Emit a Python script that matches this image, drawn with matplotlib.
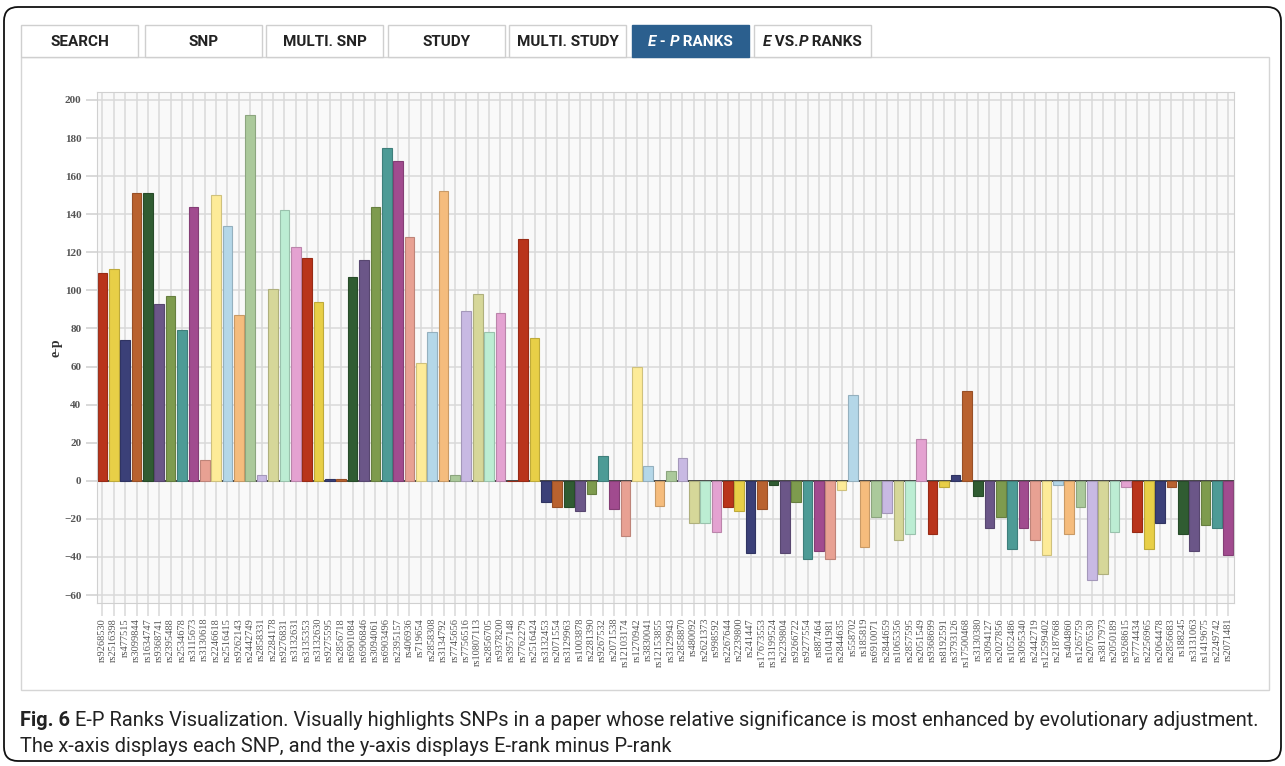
import numpy as np
import matplotlib
matplotlib.use("Agg")
import matplotlib.pyplot as plt
from matplotlib import colors as mcolors
from matplotlib import font_manager
from matplotlib.patches import Rectangle, FancyBboxPatch

# SNPs in the order they appear on the x-axis
snps = ["rs9268530", "rs2516398", "rs477515", "rs3099844", "rs1634747", "rs9368741",
        "rs2395488", "rs2534678", "rs3115673", "rs3130618", "rs2246618", "rs2516415",
        "rs9262143", "rs2442749", "rs2858331", "rs2284178", "rs9276831", "rs3132631",
        "rs3135353", "rs3132630", "rs9275595", "rs2856718", "rs6901084", "rs6906846",
        "rs3094061", "rs6903496", "rs2395157", "rs406936", "rs719654", "rs2858308",
        "rs3134792", "rs7745656", "rs7756516", "rs10807113", "rs2856705", "rs9378200",
        "rs3957148", "rs7762279", "rs2516424", "rs3132453", "rs2071554", "rs3129963",
        "rs1003878", "rs2281390", "rs9267532", "rs2071538", "rs12103174", "rs1270942",
        "rs3830041", "rs12153855", "rs3129943", "rs2858870", "rs480092", "rs2621373",
        "rs998592", "rs2267644", "rs2239800", "rs241447", "rs17673553", "rs13199524",
        "rs2239804", "rs9266722", "rs9277554", "rs887464", "rs1041981", "rs2844635",
        "rs558702", "rs185819", "rs6910071", "rs2844659", "rs1065356", "rs2857595",
        "rs2051549", "rs9368699", "rs8192591", "rs3793126", "rs17500468", "rs3130380",
        "rs3094127", "rs2027856", "rs1052486", "rs3095340", "rs2442719", "rs12599402",
        "rs2187668", "rs404860", "rs1265759", "rs2076530", "rs3817973", "rs2050189",
        "rs9268615", "rs7774434", "rs2256965", "rs2064478", "rs2856683", "rs188245",
        "rs3131063", "rs1419675", "rs2249742", "rs2071481"]

# E-rank minus P-rank
e_minus_p = [109, 111, 74, 151, 151, 93, 97, 79, 144, 11, 150, 134,
             87, 192, 3, 101, 142, 123, 117, 94, 1, 1, 107, 116,
             144, 175, 168, 128, 62, 78, 152, 3, 89, 98, 78, 88,
             0, 127, 75, -11, -14, -14, -16, -7, 13, -15, -29, 60,
             8, -13, 5, 12, -22, -22, -27, -14, -16, -38, -15, -2,
             -38, -11, -41, -37, -41, -5, 45, -35, -19, -17, -31, -28,
             22, -28, -3, 3, 47, -8, -25, -19, -36, -25, -31, -39,
             -2, -28, -14, -52, -49, -27, -3, -27, -36, -22, -3, -28,
             -37, -23, -25, -39]

palette = ["#b9341b", "#e8cf47", "#3b4078", "#b9622f", "#305c32", "#6b5688",
           "#7e9b4e", "#4d9b96", "#a14b8f", "#e8a193", "#fdeb98", "#b4d7e8",
           "#f5bc7d", "#abc99b", "#c8b9e3", "#d6d799", "#bcedd3", "#e4a2d1"]

# tab labels as (text, italic) runs
tabs = [[("SEARCH", False)],
        [("SNP", False)],
        [("MULTI. SNP", False)],
        [("STUDY", False)],
        [("MULTI. STUDY", False)],
        [("E", True), (" - ", False), ("P", True), (" RANKS", False)],
        [("E", True), (" VS.", False), ("P", True), (" RANKS", False)]]
active_tab = 5

caption_bold = "Fig. 6"
caption_1 = (" E-P Ranks Visualization. Visually highlights SNPs in a paper whose relative "
             "significance is most enhanced by evolutionary adjustment.")
caption_2 = "The x-axis displays each SNP, and the y-axis displays E-rank minus P-rank"


def pick_font(names):
    have = {f.name for f in font_manager.fontManager.ttflist}
    for n in names:
        if n in have:
            return n
    return "DejaVu Sans"


NARROW = pick_font(["Liberation Sans Narrow", "Roboto"])
SERIF = pick_font(["Liberation Serif", "DejaVu Serif"])

W, H = 1285, 766
fig = plt.figure(figsize=(W / 100, H / 100), dpi=100)
renderer = fig.canvas.get_renderer()

# background axes in pixel units for the frame, tabs and caption
bg = fig.add_axes([0, 0, 1, 1], zorder=0)
bg.set_xlim(0, W)
bg.set_ylim(H, 0)
bg.axis("off")

bg.add_patch(FancyBboxPatch((4, 7), W - 8, H - 12, boxstyle="round,pad=0,rounding_size=14",
                            fc="white", ec="#111111", lw=1.3))
bg.add_patch(Rectangle((21, 57), 1248, 633, fc="white", ec="#d5d5d5", lw=1))


def place_runs(x0, cy, runs, center=True, **kw):
    texts = [bg.text(0, cy, s, va="center", ha="left",
                     style="italic" if it else "normal", **kw) for s, it in runs]
    widths = [t.get_window_extent(renderer).width for t in texts]
    x = x0 - sum(widths) / 2 if center else x0
    for t, w in zip(texts, widths):
        t.set_x(x)
        x += w
    return texts


tab_left = [21, 145, 266, 388, 509, 632, 754]
for i, (left, runs) in enumerate(zip(tab_left, tabs)):
    on = i == active_tab
    bg.add_patch(Rectangle((left, 25), 117, 32, fc="#2b5f8e" if on else "white",
                           ec="#2b5f8e" if on else "#cfcfcf", lw=1, zorder=2))
    place_runs(left + 58.5, 42, runs, family=NARROW, fontweight="bold", fontsize=11,
               color="white" if on else "#222222", zorder=3)

# caption, sized to span the frame
fs = 11
t_b = bg.text(20, 720, caption_bold, va="center", ha="left", family=NARROW,
              fontweight="bold", fontsize=fs, color="#222222")
t_1 = bg.text(0, 720, caption_1, va="center", ha="left", family=NARROW, fontsize=fs, color="#222222")
total = t_b.get_window_extent(renderer).width + t_1.get_window_extent(renderer).width
fs = fs * 1232 / total
t_b.set_fontsize(fs)
t_1.set_fontsize(fs)
t_1.set_x(20 + t_b.get_window_extent(renderer).width)
bg.text(20, 746, caption_2, va="center", ha="left", family=NARROW, fontsize=fs, color="#222222")

# bar colours cycle through the palette, skipping empty entries
bar_colors, edge_colors = [], []
k = 0
for v in e_minus_p:
    c = palette[k % len(palette)]
    if v != 0:
        k += 1
    rgb = mcolors.to_rgb(c)
    bar_colors.append(rgb)
    edge_colors.append(tuple(ch * 0.82 for ch in rgb))

ax = fig.add_axes([96.7 / W, 1 - 602.7 / H, (1234 - 96.7) / W, (602.7 - 92) / H], zorder=1)
x = np.arange(len(snps))
ax.bar(x, e_minus_p, width=0.85, color=bar_colors, edgecolor=edge_colors, linewidth=0.8, zorder=2)
ax.axhline(0, color="#3a3a3a", lw=1.3, zorder=1.5)
ax.set_xlim(-0.5, len(snps) - 0.5)
ax.set_ylim(-64, 204.2)
ax.set_facecolor("#f9f9f9")
ax.set_yticks(np.arange(-60, 201, 20))
ax.set_xticks(x)
ax.set_xticklabels(snps, rotation=90, fontsize=7.5, family=SERIF, color="#555555")
plt.setp(ax.get_yticklabels(), family=SERIF, fontsize=8, color="#555555", fontweight="bold")
ax.grid(True, color="#d9d9d9", lw=1.1)
ax.set_axisbelow(True)
ax.tick_params(axis="x", length=9, color="#d9d9d9", width=1.1, pad=2)
ax.tick_params(axis="y", length=8, color="#cfcfcf", width=1.1, pad=3)
ax.yaxis.get_major_ticks()[3].tick1line.set_color("#3a3a3a")
for sp in ax.spines.values():
    sp.set_color("#d0d0d0")
ax.set_ylabel("e-p", family=SERIF, fontweight="bold", fontsize=10, color="#333333")
ax.yaxis.set_label_coords(-0.030, 0.5)

fig.savefig("out.png", dpi=100)
